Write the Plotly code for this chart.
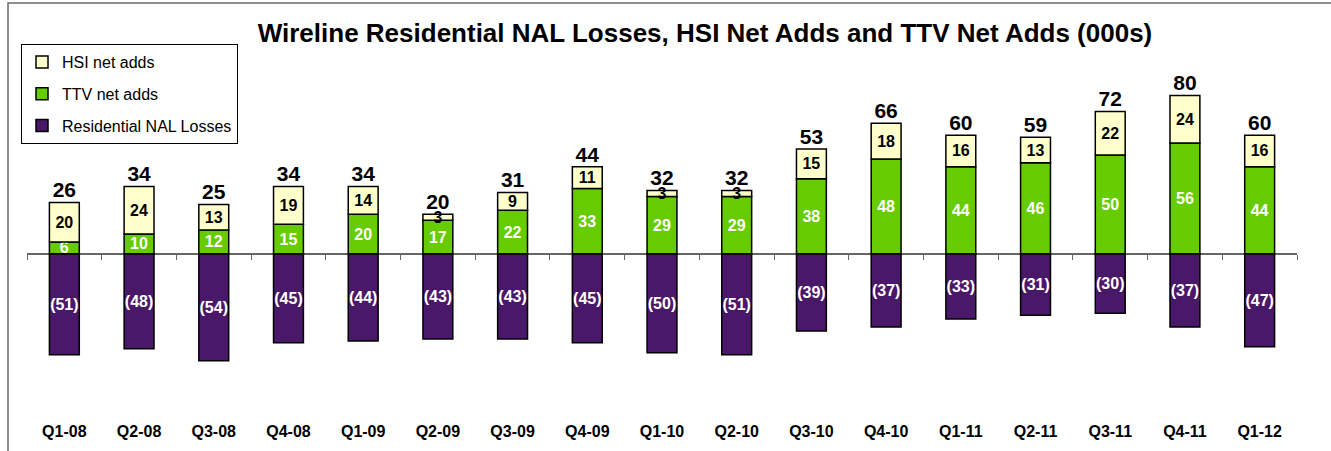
import plotly.graph_objects as go

quarters = ["Q1-08", "Q2-08", "Q3-08", "Q4-08", "Q1-09", "Q2-09", "Q3-09", "Q4-09",
            "Q1-10", "Q2-10", "Q3-10", "Q4-10", "Q1-11", "Q2-11", "Q3-11", "Q4-11", "Q1-12"]
nal_losses = [-51, -48, -54, -45, -44, -43, -43, -45, -50, -51, -39, -37, -33, -31, -30, -37, -47]
ttv_adds = [6, 10, 12, 15, 20, 17, 22, 33, 29, 29, 38, 48, 44, 46, 50, 56, 44]
hsi_adds = [20, 24, 13, 19, 14, 3, 9, 11, 3, 3, 15, 18, 16, 13, 22, 24, 16]
totals = [26, 34, 25, 34, 34, 20, 31, 44, 32, 32, 53, 66, 60, 59, 72, 80, 60]

C_HSI = "#FFFFCC"
C_TTV = "#66CC00"
C_NAL = "#4A1868"
FONT = "Liberation Sans, Arial, sans-serif"

Y_MIN, Y_MAX = -84, 98

fig = go.Figure()

common = dict(width=0.4, textposition="inside", insidetextanchor="middle",
              constraintext="none", textangle=0, hoverinfo="skip")

fig.add_trace(go.Bar(
    name="Residential NAL Losses", x=quarters, y=nal_losses,
    text=[f"({abs(v)})" for v in nal_losses],
    marker=dict(color=C_NAL, line=dict(color="black", width=1.5)),
    textfont=dict(color="white", size=16, family=FONT, weight="bold"),
    legendgroup="nal", legendrank=3, **common))
fig.add_trace(go.Bar(
    name="TTV net adds", x=quarters, y=ttv_adds,
    text=[str(v) for v in ttv_adds],
    marker=dict(color=C_TTV, line=dict(color="black", width=1.5)),
    textfont=dict(color="white", size=16, family=FONT, weight="bold"),
    legendgroup="ttv", legendrank=2, **common))
fig.add_trace(go.Bar(
    name="HSI net adds", x=quarters, y=hsi_adds,
    text=[str(v) for v in hsi_adds],
    marker=dict(color=C_HSI, line=dict(color="black", width=1.5)),
    textfont=dict(color="black", size=16, family=FONT, weight="bold"),
    legendgroup="hsi", legendrank=1, **common))

fig.add_trace(go.Scatter(
    x=quarters, y=totals, mode="text", text=[str(v) for v in totals],
    textposition="top center", showlegend=False, hoverinfo="skip",
    textfont=dict(color="black", size=21, family=FONT, weight="bold")))

# invisible trace so the zero-line axis has data
fig.add_trace(go.Scatter(
    x=quarters, y=nal_losses, xaxis="x2", mode="markers",
    marker=dict(opacity=0), showlegend=False, hoverinfo="skip"))

zero_pos = (0 - Y_MIN) / (Y_MAX - Y_MIN)
x_range = [-0.5, len(quarters) - 0.5]

fig.update_layout(
    width=1331, height=451,
    margin=dict(l=27, r=34, t=60, b=31, autoexpand=False),
    paper_bgcolor="white", plot_bgcolor="white",
    barmode="relative",
    font=dict(family=FONT, color="black"),
    title=dict(text="Wireline Residential NAL Losses, HSI Net Adds and TTV Net Adds (000s)",
               x=705 / 1331, xanchor="center", xref="container",
               y=1 - 33 / 451, yanchor="middle", yref="container",
               font=dict(size=26, family=FONT, color="black", weight="bold")),
    xaxis=dict(type="category", categoryorder="array", categoryarray=quarters,
               range=x_range, autorange=False,
               showline=False, ticks="", showgrid=False, zeroline=False,
               tickfont=dict(size=16, family=FONT, color="black", weight="bold")),
    xaxis2=dict(type="category", categoryorder="array", categoryarray=quarters,
                overlaying="x", matches="x", anchor="free", position=zero_pos,
                side="bottom", showline=True, linecolor="#666666", linewidth=1.5,
                ticks="outside", ticklen=5, tickwidth=1.2, tickcolor="#666666",
                tickson="boundaries", showticklabels=False, showgrid=False,
                layer="below traces"),
    yaxis=dict(range=[Y_MIN, Y_MAX], visible=False, showgrid=False, zeroline=False),
    legend=dict(x=(21 - 27) / 1270, y=(420 - 44) / 360, xanchor="left", yanchor="top",
                bordercolor="black", borderwidth=1, bgcolor="white",
                traceorder="grouped", tracegroupgap=8,
                font=dict(size=16, family=FONT, color="black")),
    shapes=[dict(type="rect", xref="paper", yref="paper",
                 x0=(8 - 27) / 1270, x1=1.2, y0=-0.3, y1=(420 - 3) / 360,
                 line=dict(color="#6a6a6a", width=1.5), fillcolor="rgba(0,0,0,0)",
                 layer="below")],
)

fig.write_html("out.html", config={"displayModeBar": False},
               post_script="document.body.style.margin='0';")
